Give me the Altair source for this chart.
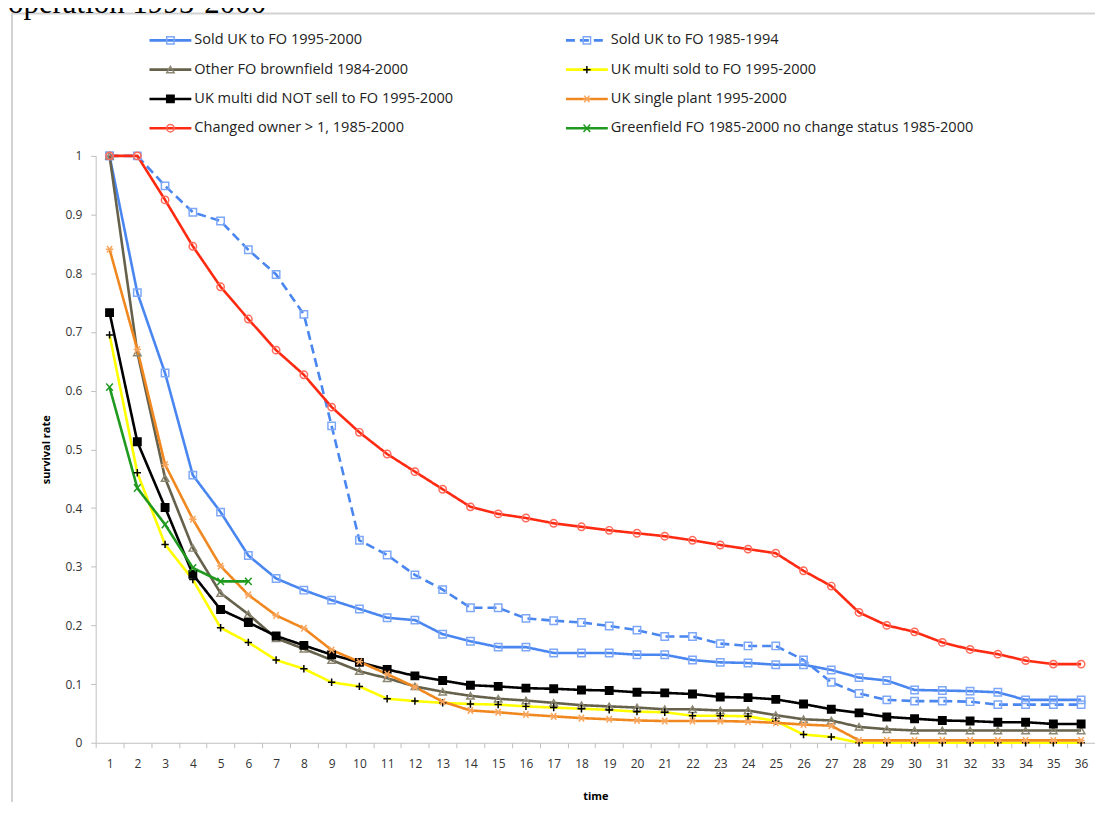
import altair as alt
import pandas as pd

# ---------------- data ----------------
names = [
    "Sold UK to FO 1995-2000",
    "Sold UK to FO 1985-1994",
    "Other FO brownfield 1984-2000",
    "UK multi sold to FO 1995-2000",
    "UK multi did NOT sell to FO 1995-2000",
    "UK single plant 1995-2000",
    "Changed owner > 1, 1985-2000",
    "Greenfield FO 1985-2000 no change status 1985-2000",
]

sold_95_00 = [1.0, 0.767, 0.63, 0.456, 0.393, 0.319, 0.28, 0.26, 0.243, 0.228, 0.213, 0.209,
              0.185, 0.173, 0.163, 0.163, 0.153, 0.153, 0.153, 0.15, 0.15, 0.141, 0.137, 0.136,
              0.133, 0.133, 0.124, 0.111, 0.106, 0.09, 0.089, 0.088, 0.086, 0.073, 0.073, 0.073]
sold_85_94 = [1.0, 1.0, 0.949, 0.904, 0.889, 0.84, 0.798, 0.73, 0.54, 0.345, 0.32, 0.286,
              0.261, 0.23, 0.23, 0.212, 0.208, 0.205, 0.199, 0.192, 0.181, 0.181, 0.169, 0.165,
              0.165, 0.141, 0.103, 0.084, 0.073, 0.071, 0.071, 0.07, 0.065, 0.065, 0.065, 0.065]
other_fo = [1.0, 0.665, 0.451, 0.332, 0.255, 0.219, 0.178, 0.16, 0.141, 0.122, 0.11, 0.096,
            0.087, 0.08, 0.075, 0.072, 0.068, 0.064, 0.062, 0.06, 0.057, 0.057, 0.055, 0.055,
            0.047, 0.04, 0.038, 0.027, 0.023, 0.021, 0.021, 0.021, 0.021, 0.021, 0.021, 0.021]
multi_sold = [0.695, 0.46, 0.338, 0.278, 0.196, 0.171, 0.141, 0.126, 0.103, 0.096, 0.075, 0.071,
              0.068, 0.066, 0.065, 0.062, 0.06, 0.058, 0.056, 0.053, 0.052, 0.046, 0.046, 0.045,
              0.037, 0.014, 0.01, 0.0, 0.0, 0.0, 0.0, 0.0, 0.0, 0.0, 0.0, 0.0]
multi_not = [0.733, 0.513, 0.401, 0.287, 0.227, 0.205, 0.182, 0.166, 0.15, 0.137, 0.125, 0.114,
             0.106, 0.098, 0.096, 0.093, 0.092, 0.09, 0.089, 0.086, 0.085, 0.083, 0.078, 0.077,
             0.074, 0.066, 0.057, 0.051, 0.044, 0.041, 0.038, 0.037, 0.035, 0.035, 0.032, 0.032]
single_plant = [0.841, 0.67, 0.474, 0.381, 0.301, 0.252, 0.217, 0.195, 0.158, 0.138, 0.117, 0.095,
                0.07, 0.055, 0.052, 0.048, 0.045, 0.042, 0.04, 0.038, 0.037, 0.037, 0.037, 0.036,
                0.034, 0.031, 0.029, 0.004, 0.004, 0.004, 0.004, 0.004, 0.004, 0.004, 0.004, 0.004]
changed_owner = [1.0, 1.0, 0.925, 0.846, 0.777, 0.722, 0.669, 0.627, 0.572, 0.529, 0.492, 0.462,
                 0.432, 0.402, 0.39, 0.383, 0.374, 0.368, 0.362, 0.357, 0.352, 0.345, 0.337, 0.33,
                 0.323, 0.293, 0.267, 0.222, 0.2, 0.189, 0.171, 0.159, 0.151, 0.14, 0.134, 0.134]
greenfield = [0.606, 0.434, 0.372, 0.298, 0.275, 0.275]

series_values = [sold_95_00, sold_85_94, other_fo, multi_sold, multi_not,
                 single_plant, changed_owner, greenfield]

y_ticks = [0, 0.1, 0.2, 0.3, 0.4, 0.5, 0.6, 0.7, 0.8, 0.9, 1]
title_text = "operation 1995-2000"

# ---------------- styles ----------------
line_colors = ["#4a86f0", "#4a86f0", "#66614b", "#ffff00", "#000000", "#f0881f", "#ff2a12", "#1f9a1f"]
dashes = [[1, 0], [9, 5], [1, 0], [1, 0], [1, 0], [1, 0], [1, 0], [1, 0]]
PLUS = "M-1,0L1,0M0,-1L0,1"
ASTER = "M-1,0L1,0M-0.7,-0.9L0.7,0.9M-0.7,0.9L0.7,-0.9"
XSHAPE = "M-0.9,-1L0.9,1M-0.9,1L0.9,-1"
shapes = ["square", "square", "triangle-up", PLUS, "square", ASTER, "circle", XSHAPE]
m_stroke = ["#7ea8f7", "#7ea8f7", "#8b8672", "#000000", "#000000", "#f7a45c", "#ff6a5a", "#1f9a1f"]
m_fill = ["transparent", "transparent", "transparent", "transparent", "#000000",
          "transparent", "transparent", "transparent"]
m_size = [55, 55, 50, 50, 75, 60, 60, 50]

rows = []
for name, vals in zip(names, series_values):
    for t, v in enumerate(vals, start=1):
        rows.append({"s": name, "t": t, "v": v})
df = pd.DataFrame(rows)

FONT = "Open Sans"

color_sc = alt.Scale(domain=names, range=line_colors)
dash_sc = alt.Scale(domain=names, range=dashes)
shape_sc = alt.Scale(domain=names, range=shapes)
stroke_sc = alt.Scale(domain=names, range=m_stroke)
fill_sc = alt.Scale(domain=names, range=m_fill)
size_sc = alt.Scale(domain=names, range=m_size)

X = alt.X("t:O", bandPosition=0.5,
          scale=alt.Scale(type="band", paddingInner=0, paddingOuter=0),
          axis=alt.Axis(title="time", tickBand="extent", labelAngle=0, tickSize=5,
                        labelPadding=11, titlePadding=21, domainColor="#bfbfbf",
                        tickColor="#bfbfbf", labelFontSize=12, titleFontSize=11,
                        titleFontWeight="bold", labelColor="#333333"))
Y = alt.Y("v:Q", scale=alt.Scale(domain=[0, 1], nice=False),
          axis=alt.Axis(title="survival rate", values=y_ticks, format="~g", grid=False,
                        tickSize=5, labelPadding=9, titlePadding=13, domainColor="#bfbfbf",
                        tickColor="#bfbfbf", labelFontSize=12, titleFontSize=11,
                        titleFontWeight="bold", labelColor="#333333"))

lines = alt.Chart(df).mark_line(strokeWidth=2.6).encode(
    x=X, y=Y,
    color=alt.Color("s:N", scale=color_sc, legend=None),
    strokeDash=alt.StrokeDash("s:N", scale=dash_sc, legend=None),
)
points = alt.Chart(df).mark_point(filled=False, strokeWidth=1.5, opacity=1).encode(
    x=X, y=Y,
    shape=alt.Shape("s:N", scale=shape_sc, legend=None),
    stroke=alt.Stroke("s:N", scale=stroke_sc, legend=None),
    fill=alt.Fill("s:N", scale=fill_sc, legend=None),
    size=alt.Size("s:N", scale=size_sc, legend=None),
)
main = alt.layer(lines, points)

# ---------------- manual legend (2 columns, row-wise order) ----------------
leg_df = pd.DataFrame({"s": names, "i": list(range(len(names)))})
leg_base = alt.Chart(leg_df).transform_calculate(
    col="datum.i % 2", row="floor(datum.i / 2)"
).transform_calculate(
    lx="54 + datum.col * 418", ly="-116 + datum.row * 29.4"
).transform_calculate(
    lx2="datum.lx + 42", mx="datum.lx + 21", tx="datum.lx + 45"
)
leg_rule = leg_base.mark_rule(strokeWidth=2.6).encode(
    x=alt.X("lx:Q", scale=None), x2="lx2:Q", y=alt.Y("ly:Q", scale=None),
    color=alt.Color("s:N", scale=color_sc, legend=None),
    strokeDash=alt.StrokeDash("s:N", scale=dash_sc, legend=None),
)
leg_pts = leg_base.mark_point(filled=False, strokeWidth=1.5, opacity=1).encode(
    x=alt.X("mx:Q", scale=None), y=alt.Y("ly:Q", scale=None),
    shape=alt.Shape("s:N", scale=shape_sc, legend=None),
    stroke=alt.Stroke("s:N", scale=stroke_sc, legend=None),
    fill=alt.Fill("s:N", scale=fill_sc, legend=None),
    size=alt.Size("s:N", scale=size_sc, legend=None),
)
leg_txt = leg_base.mark_text(align="left", baseline="middle", font=FONT, fontSize=14.6,
                             color="#222222").encode(
    x=alt.X("tx:Q", scale=None), y=alt.Y("ly:Q", scale=None), text="s:N")
legend = alt.layer(leg_rule, leg_pts, leg_txt)

# ---------------- frame and clipped heading ----------------
one = pd.DataFrame({"txt": [title_text]})
frame = alt.Chart(one).mark_rect(fillOpacity=0, stroke="#d2d2d2", strokeWidth=2).encode(
    x=alt.value(-84), x2=alt.value(1200), y=alt.value(-143), y2=alt.value(900))
heading = alt.Chart(one).mark_text(align="left", baseline="alphabetic", font="Liberation Serif",
                                   fontSize=31, color="#000000").encode(
    x=alt.value(-88), y=alt.value(-143.5), text="txt:N")

chart = alt.layer(frame, heading, main, legend).resolve_scale(
    x="independent", y="independent"
).properties(
    width=1003, height=589,
    autosize=alt.AutoSizeParams(type="none"),
    padding={"left": 88, "top": 147, "right": 0, "bottom": 58},
).configure_view(strokeWidth=0).configure_axis(
    labelFont=FONT, titleFont=FONT
)

chart.save("out.html", embed_options={"renderer": "svg", "actions": False})
